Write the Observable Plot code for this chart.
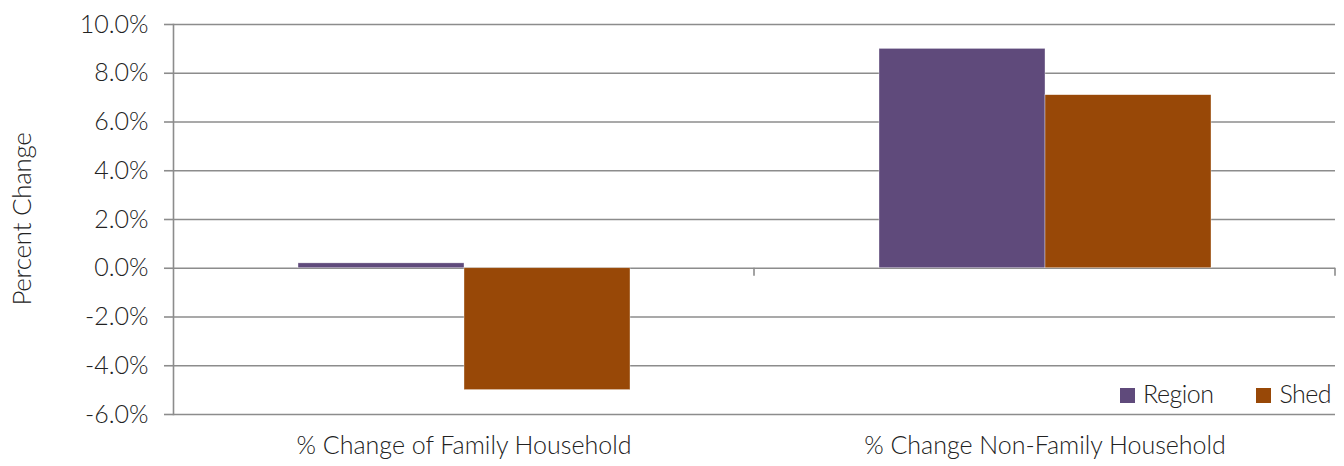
<!DOCTYPE html>
<html><head><meta charset="utf-8">
<script src="https://cdn.jsdelivr.net/npm/d3@7"></script>
<script src="https://cdn.jsdelivr.net/npm/@observablehq/plot@0.6"></script>
<style>
body{margin:0;background:#fff;}
#wrap{position:relative;width:1344px;height:466px;font-family:Lato,"Noto Sans",sans-serif;font-weight:300;color:#222;}
.legend{position:absolute;top:378px;left:1120px;display:flex;align-items:center;font-size:25px;letter-spacing:-0.5px;}
.legend .item{display:flex;align-items:center;}
.legend .sw{width:15px;height:15px;display:inline-block;margin-right:8px;margin-top:4px;}
</style></head><body><div id="wrap"></div>
<script>
const categories = ["% Change of Family Household", "% Change Non-Family Household"];
const seriesNames = ["Region", "Shed"];
const regionValues = [0.002, 0.090];
const shedValues = [-0.050, 0.071];
const yTicks = [-0.06, -0.04, -0.02, 0, 0.02, 0.04, 0.06, 0.08, 0.10];
const seriesColors = ["#5F4A7B", "#984807"];
const yLabel = "Percent Change";

const data = [];
categories.forEach((c, i) => {
  data.push({category: c, series: seriesNames[0], value: regionValues[i]});
  data.push({category: c, series: seriesNames[1], value: shedValues[i]});
});

const gridColor = "#8c8c8c";
const pct = d3.format(".1%");
const fmt = d => pct(d).replace("\u2212", "-");

const plot = Plot.plot({
  width: 1344,
  height: 466,
  marginLeft: 173,
  marginRight: 9,
  marginTop: 24,
  marginBottom: 52,
  style: {fontFamily: "Lato, 'Noto Sans', sans-serif", fontWeight: 300, fontSize: "25px", color: "#222", background: "#fff"},
  fx: {domain: categories, padding: 0, label: null},
  x: {domain: seriesNames, paddingInner: 0, paddingOuter: 0.75, axis: null},
  y: {domain: [-0.06, 0.10], ticks: yTicks, label: null},
  color: {domain: seriesNames, range: seriesColors},
  marks: [
    Plot.ruleY(yTicks, {stroke: gridColor, strokeWidth: 1.6}),
    Plot.frame({anchor: "left", facetAnchor: "left", stroke: gridColor, strokeWidth: 1.6}),
    Plot.barY(data, {fx: "category", x: "series", y: "value", fill: "series", stroke: "#fff", strokeWidth: 0.6, strokeOpacity: 0.6}),
    Plot.axisY({ticks: yTicks, tickFormat: fmt, tickSize: 9, tickPadding: 16, stroke: gridColor, strokeWidth: 1.6, label: null, style: {letterSpacing: "-1px"}}),
    Plot.axisFx({anchor: "bottom", tickSize: 0, tickPadding: 22, label: null, style: {fontSize: "23px", letterSpacing: "-0.5px"}})
  ]
});

document.getElementById("wrap").appendChild(plot);

// category-boundary ticks along the zero line, positioned with the plot's own scales
const fxs = plot.scale("fx");
const ys = plot.scale("y");
const svg = d3.select(plot);
const y0 = ys.apply(0);
categories.forEach(c => {
  const xr = fxs.apply(c) + fxs.bandwidth;
  svg.append("line").attr("x1", xr).attr("x2", xr).attr("y1", y0).attr("y2", y0 + 8)
    .attr("stroke", gridColor).attr("stroke-width", 1.6);
});

// y label
svg.append("text").text(yLabel)
  .attr("transform", `translate(31,${(ys.apply(0.10) + ys.apply(-0.06)) / 2}) rotate(-90)`)
  .attr("text-anchor", "middle")
  .attr("font-size", 26).attr("fill", "#222").attr("letter-spacing", "-0.3px");

// legend
const leg = document.createElement("div");
leg.className = "legend";
seriesNames.forEach((s, i) => {
  const it = document.createElement("span");
  it.className = "item";
  if (i > 0) it.style.marginLeft = "43px";
  it.innerHTML = `<span class="sw" style="background:${seriesColors[i]}"></span><span>${s}</span>`;
  leg.appendChild(it);
});
document.getElementById("wrap").appendChild(leg);
</script>
</body></html>
